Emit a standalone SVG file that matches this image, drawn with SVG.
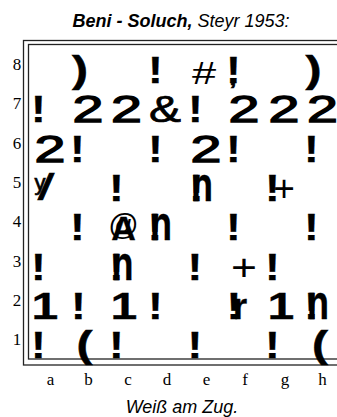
<svg xmlns="http://www.w3.org/2000/svg" width="337" height="417" viewBox="0 0 337 417">
<style>
.t{font-family:"Liberation Sans",Arial,sans-serif;font-size:18px;font-style:italic;fill:#000}
.lab{font-family:"Liberation Serif","Times New Roman",serif;font-size:17px;fill:#000;text-anchor:middle}
.g{font-family:"Liberation Sans",Arial,sans-serif;font-size:37px;fill:#000;text-anchor:middle;stroke:#000;stroke-width:0.7}
.two{stroke-width:1.3}
.x{font-weight:bold;stroke-width:0.3}
.p{font-weight:bold;stroke-width:0.5}
.thin{stroke-width:0}
.frame{fill:none;stroke:#222;stroke-width:1.3}
</style>
<rect width="337" height="417" fill="#fff"/>
<g id="title">
<text class="t" x="181" y="27" text-anchor="middle"><tspan font-weight="bold">Beni - Soluch,</tspan> Steyr 1953:</text>
</g>
<g id="board">
<rect class="frame" x="23.5" y="40.5" width="330" height="324.5"/>
<rect class="frame" x="28.5" y="44.5" width="320" height="314.5"/>
</g>
<g id="rank-labels">
<text class="lab" x="17" y="70">8</text>
<text class="lab" x="17" y="109.3">7</text>
<text class="lab" x="17" y="148.6">6</text>
<text class="lab" x="17" y="187.9">5</text>
<text class="lab" x="17" y="227.2">4</text>
<text class="lab" x="17" y="266.5">3</text>
<text class="lab" x="17" y="305.8">2</text>
<text class="lab" x="17" y="345.1">1</text>
</g>
<g id="file-labels">
<text class="lab" x="50.5" y="385">a</text>
<text class="lab" x="88.5" y="385">b</text>
<text class="lab" x="128" y="385">c</text>
<text class="lab" x="167" y="385">d</text>
<text class="lab" x="206.5" y="385">e</text>
<text class="lab" x="245" y="385">f</text>
<text class="lab" x="285" y="385">g</text>
<text class="lab" x="322.5" y="385">h</text>
</g>
<g id="rank8">
<text class="g p" transform="translate(80,82) scale(1.3,1)">)</text>
<text class="g x" transform="translate(155.5,83) scale(1.2,1)">!</text>
<text class="g thin" style="font-size:31px" transform="translate(204,84) scale(1.4,1)">#</text>
<text class="g x" transform="translate(233.5,83) scale(1.2,1)">!</text>
<text class="g" style="font-size:24px" transform="translate(233,85) scale(1.4,1)">,</text>
<text class="g p" transform="translate(313.5,82) scale(1.3,1)">)</text>
</g>
<g id="rank7">
<text class="g x" transform="translate(38.5,122.3) scale(1.2,1)">!</text>
<text class="g two" transform="translate(88,122.3) scale(1.5,1)">2</text>
<text class="g two" transform="translate(126.5,122.3) scale(1.5,1)">2</text>
<text class="g" transform="translate(165,122.3) scale(1.3,1)">&amp;</text>
<text class="g x" transform="translate(195.5,122.3) scale(1.2,1)">!</text>
<text class="g two" transform="translate(244,122.3) scale(1.5,1)">2</text>
<text class="g two" transform="translate(284,122.3) scale(1.5,1)">2</text>
<text class="g two" transform="translate(322.5,122.3) scale(1.5,1)">2</text>
</g>
<g id="rank6">
<text class="g two" transform="translate(50,161.6) scale(1.5,1)">2</text>
<text class="g x" transform="translate(77.5,161.6) scale(1.2,1)">!</text>
<text class="g x" transform="translate(155.5,161.6) scale(1.2,1)">!</text>
<text class="g two" transform="translate(206,161.6) scale(1.5,1)">2</text>
<text class="g x" transform="translate(233.5,161.6) scale(1.2,1)">!</text>
<text class="g x" transform="translate(311.5,161.6) scale(1.2,1)">!</text>
</g>
<g id="rank5">
<text class="g" transform="translate(46,200) scale(1.6,1)">/</text>
<text class="g" style="font-size:22px" transform="translate(40,190)">y</text>
<text class="g x" transform="translate(116.5,200.9) scale(1.2,1)">!</text>
<text class="g x" transform="translate(196.5,200.9) scale(1.2,1)">!</text>
<text class="g x" style="font-size:48px" transform="translate(202,200.9) scale(0.75,1)">n</text>
<text class="g x" transform="translate(272.5,200.9) scale(1.2,1)">!</text>
<text class="g thin" transform="translate(284,200.9)">+</text>
</g>
<g id="rank4">
<text class="g x" transform="translate(77.5,240.2) scale(1.2,1)">!</text>
<text class="g thin" style="font-size:30px" transform="translate(123.5,235)">@</text>
<text class="g x" style="font-size:34px" transform="translate(123.5,240.2)">A</text>
<text class="g x" transform="translate(155,240.2) scale(1.2,1)">!</text>
<text class="g x" style="font-size:48px" transform="translate(161,240.2) scale(0.75,1)">n</text>
<text class="g x" transform="translate(233.5,240.2) scale(1.2,1)">!</text>
<text class="g x" transform="translate(311.5,240.2) scale(1.2,1)">!</text>
</g>
<g id="rank3">
<text class="g x" transform="translate(38.5,279.5) scale(1.2,1)">!</text>
<text class="g x" transform="translate(116.5,279.5) scale(1.2,1)">!</text>
<text class="g x" style="font-size:48px" transform="translate(122.5,279.5) scale(0.75,1)">n</text>
<text class="g x" transform="translate(195,279.5) scale(1.2,1)">!</text>
<text class="g thin" transform="translate(244,279.5) scale(1.2,1)">+</text>
<text class="g x" transform="translate(272.5,279.5) scale(1.2,1)">!</text>
</g>
<g id="rank2">
<text class="g x" transform="translate(45,318.8) scale(1.3,1)">1</text>
<text class="g x" transform="translate(78.5,318.8) scale(1.2,1)">!</text>
<text class="g x" transform="translate(124,318.8) scale(1.3,1)">1</text>
<text class="g x" transform="translate(155.5,318.8) scale(1.2,1)">!</text>
<text class="g x" transform="translate(234,318.8) scale(1.2,1)">!</text>
<text class="g x" transform="translate(240,318.8)">r</text>
<text class="g x" transform="translate(281,318.8) scale(1.3,1)">1</text>
<text class="g x" transform="translate(311.5,318.8) scale(1.2,1)">!</text>
<text class="g x" style="font-size:48px" transform="translate(318,318.8) scale(0.75,1)">n</text>
</g>
<g id="rank1">
<text class="g x" transform="translate(38.5,358) scale(1.2,1)">!</text>
<text class="g p" transform="translate(84.5,357) scale(1.3,1)">(</text>
<text class="g x" transform="translate(116.5,358) scale(1.2,1)">!</text>
<text class="g x" transform="translate(195,358) scale(1.2,1)">!</text>
<text class="g x" transform="translate(272.5,358) scale(1.2,1)">!</text>
<text class="g p" transform="translate(320,357) scale(1.3,1)">(</text>
</g>
<g id="caption">
<text class="t" x="182" y="412.5" text-anchor="middle">Weiß am Zug.</text>
</g>
</svg>
